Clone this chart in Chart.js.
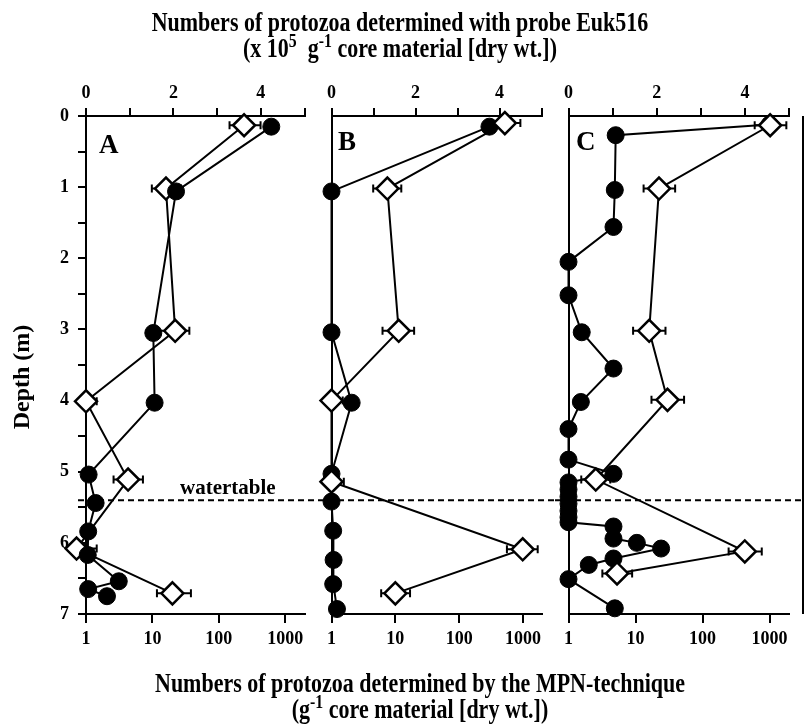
<!DOCTYPE html>
<html>
<head>
<meta charset="utf-8">
<script src="https://cdn.jsdelivr.net/npm/chart.js@4.4.0/dist/chart.umd.min.js"></script>
<style>
  body { margin: 0; background: #fff; }
  #fig { position: relative; width: 806px; height: 725px; color: #000;
         font-family: "Liberation Serif", "Times New Roman", serif; font-weight: bold; }
  canvas { position: absolute; top: 0; }
  .txt { position: absolute; white-space: nowrap; }
  .ttl { width: 806px; text-align: center; font-size: 22px; line-height: 22px;
         transform: scaleY(1.2); transform-origin: 50% 0; }
  sup { font-size: 0.72em; line-height: 0; vertical-align: 0.55em; }
  .lett { font-size: 27px; line-height: 27px; }
</style>
</head>
<body>
<div id="fig">
  <canvas id="panelA" width="318" height="725" style="left:0px"></canvas>
  <canvas id="panelB" width="237" height="725" style="left:318px"></canvas>
  <canvas id="panelC" width="251" height="725" style="left:555px"></canvas>

  <div class="txt ttl" style="top:9px; left:-3px">Numbers of protozoa determined with probe Euk516<br>(x 10<sup>5</sup>&nbsp; g<sup>-1</sup> core material [dry wt.])</div>
  <div class="txt ttl" style="top:670px; left:17px">Numbers of protozoa determined by the MPN-technique<br>(g<sup>-1</sup> core material [dry wt.])</div>

  <div class="txt lett" style="left:99px; top:131px">A</div>
  <div class="txt lett" style="left:338px; top:128px">B</div>
  <div class="txt lett" style="left:576px; top:128px">C</div>
  <div class="txt" style="left:180px; top:477px; font-size:21px; line-height:21px">watertable</div>
</div>

<script>
// tick labels
const topTicks = [0, 2, 4];
const logTicks = [1, 10, 100, 1000];
const waterTable = 5.4;

// panel A - probe Euk516 (x10^5 per g) and MPN (per g) with depth (m)
const depthProbeA = [0.15, 1.06, 3.05, 4.03, 5.04, 5.44, 5.84, 6.17, 6.54, 6.65, 6.75];
const probeA      = [4.24, 2.06, 1.54, 1.57, 0.06, 0.22, 0.05, 0.04, 0.75, 0.05, 0.48];
const depthMpnA = [0.13, 1.02, 3.02, 4.01, 5.11, 6.08, 6.71];
const mpnA      = [240, 16, 22, 1.0, 4.3, 0.72, 20];
const mpnLoA    = [145, 9.8, 11.7, 1.0, 2.6, 0.6, 11.7];
const mpnHiA    = [425, 27, 36, 1.45, 7.2, 1.45, 38];

// panel B
const depthProbeB = [0.15, 1.06, 3.04, 4.03, 5.03, 5.42, 5.83, 6.24, 6.58, 6.93];
const probeB      = [3.76, 0, 0, 0.48, 0, 0, 0.04, 0.05, 0.04, 0.13];
const depthMpnB = [0.10, 1.02, 3.02, 4.0, 5.14, 6.09, 6.71];
const mpnB      = [520, 7.5, 11.3, 1.0, 1.0, 990, 10];
const mpnLoB    = [395, 4.5, 6.3, 1.0, 1.0, 560, 6];
const mpnHiB    = [910, 12.4, 19.7, 1.5, 1.56, 1700, 17];

// panel C
const depthProbeC = [0.12, 0.27, 1.04, 1.56, 2.05, 2.52, 3.04, 3.55, 4.02, 4.40, 4.83, 5.03,
                     5.15, 5.25, 5.35, 5.45, 5.55, 5.64, 5.71, 5.77, 5.94, 6.00, 6.08, 6.22, 6.31, 6.51, 6.92];
const probeC      = [4.56, 1.07, 1.05, 1.02, 0, 0, 0.30, 1.02, 0.28, 0, 0, 1.02,
                     0, 0, 0, 0, 0, 0, 0, 1.02, 1.02, 1.55, 2.10, 1.02, 0.46, 0, 1.05];
const depthMpnC = [0.13, 1.02, 3.02, 3.99, 5.11, 6.12, 6.43];
const mpnC      = [1020, 22.4, 16, 30, 2.55, 427, 5.3];
const mpnLoC    = [600, 13.2, 9.2, 17.3, 1.55, 245, 3.2];
const mpnHiC    = [1780, 39, 28, 53, 4.2, 765, 8.9];

const FONT = 'Liberation Serif';

function toPoints(xs, ys) {
  return xs.map((x, i) => ({ x: x, y: ys[i] }));
}

// error bars, watertable line and right frame line
const extras = {
  id: 'extras',
  beforeDatasetsDraw(chart, args, opts) {
    const ctx = chart.ctx;
    const area = chart.chartArea;
    ctx.save();
    ctx.strokeStyle = '#000';

    // watertable
    const wy = chart.scales.y.getPixelForValue(waterTable);
    ctx.lineWidth = 2;
    ctx.setLineDash([6, 4]);
    ctx.beginPath();
    ctx.moveTo(opts.lineFrom, wy);
    ctx.lineTo(opts.lineTo, wy);
    ctx.stroke();
    ctx.setLineDash([]);

    // right frame
    if (opts.frame) {
      ctx.beginPath();
      ctx.moveTo(area.right + 14, area.top);
      ctx.lineTo(area.right + 14, area.bottom);
      ctx.stroke();
    }

    // error bars
    chart.data.datasets.forEach(ds => {
      if (!ds.errLo) return;
      const xs = chart.scales[ds.xAxisID];
      const ys = chart.scales[ds.yAxisID];
      ds.data.forEach((p, i) => {
        const yy = ys.getPixelForValue(p.y);
        const x1 = xs.getPixelForValue(ds.errLo[i]);
        const x2 = xs.getPixelForValue(ds.errHi[i]);
        ctx.beginPath();
        ctx.moveTo(x1, yy);
        ctx.lineTo(x2, yy);
        if (ds.errLo[i] < p.x) { ctx.moveTo(x1, yy - 4); ctx.lineTo(x1, yy + 4); }
        if (ds.errHi[i] > p.x) { ctx.moveTo(x2, yy - 4); ctx.lineTo(x2, yy + 4); }
        ctx.stroke();
      });
    });
    ctx.restore();
  }
};

function makePanel(id, p) {
  const tickFont = { family: FONT, weight: 'bold', size: 18 };
  const yAxis = {
    type: 'linear', reverse: true, min: 0, max: 7,
    afterFit: s => { s.width = p.yWidth; },
    border: { display: true, color: '#000', width: 2 },
    grid: { display: p.labels, drawOnChartArea: false, color: '#000', lineWidth: 2, tickLength: 8 },
    ticks: {
      display: p.labels, stepSize: 0.5, padding: 9, color: '#000', font: tickFont,
      callback: v => Number.isInteger(v) ? v : ''
    },
    title: {
      display: p.labels, text: 'Depth (m)    ', color: '#000',
      font: { family: FONT, weight: 'bold', size: 24 }, padding: { top: 8, bottom: 0 }
    }
  };

  return new Chart(document.getElementById(id), {
    type: 'scatter',
    data: {
      datasets: [
        {
          label: 'Euk516',
          data: toPoints(p.probe, p.depthProbe),
          xAxisID: 'xTop', yAxisID: 'y',
          showLine: true, borderColor: '#000', borderWidth: 2,
          pointStyle: 'circle', pointRadius: 8.5, pointBackgroundColor: '#000',
          pointBorderColor: '#000', pointBorderWidth: 1,
          order: p.circlesOnTop ? 0 : 1, clip: false
        },
        {
          label: 'MPN',
          data: toPoints(p.mpn, p.depthMpn),
          errLo: p.lo, errHi: p.hi,
          xAxisID: 'xLog', yAxisID: 'y',
          showLine: true, borderColor: '#000', borderWidth: 2,
          pointStyle: 'rectRot', pointRadius: 11, pointBackgroundColor: '#fff',
          pointBorderColor: '#000', pointBorderWidth: 2.5,
          order: p.circlesOnTop ? 1 : 0, clip: false
        }
      ]
    },
    options: {
      responsive: false,
      animation: false,
      layout: { padding: { left: 0, right: p.padRight, top: 0, bottom: 0 } },
      plugins: {
        legend: { display: false },
        tooltip: { enabled: false },
        extras: { lineFrom: p.lineFrom, lineTo: p.lineTo, frame: p.frame }
      },
      scales: {
        xTop: {
          type: 'linear', position: 'top', min: 0, max: 5,
          afterFit: s => { s.height = 116; },
          border: { display: true, color: '#000', width: 2 },
          grid: { drawOnChartArea: false, color: '#000', lineWidth: 2, tickLength: 8 },
          ticks: {
            stepSize: 1, padding: 4, color: '#000', font: tickFont, maxRotation: 0,
            callback: v => topTicks.includes(v) ? v : ''
          }
        },
        xLog: {
          type: 'logarithmic', position: 'bottom', min: 1, max: 1950,
          afterFit: s => { s.height = 111; },
          afterBuildTicks: s => { s.ticks = logTicks.map(v => ({ value: v })); },
          border: { display: true, color: '#000', width: 2 },
          grid: { drawOnChartArea: false, color: '#000', lineWidth: 2, tickLength: 9 },
          ticks: {
            padding: 6, color: '#000', font: tickFont, maxRotation: 0, autoSkip: false,
            callback: v => logTicks.includes(v) ? String(v) : ''
          }
        },
        y: yAxis
      }
    },
    plugins: [extras]
  });
}

makePanel('panelA', {
  probe: probeA, depthProbe: depthProbeA, mpn: mpnA, depthMpn: depthMpnA, lo: mpnLoA, hi: mpnHiA,
  labels: true, yWidth: 86, padRight: 6, lineFrom: 78, lineTo: 318, frame: false, circlesOnTop: true
});
makePanel('panelB', {
  probe: probeB, depthProbe: depthProbeB, mpn: mpnB, depthMpn: depthMpnB, lo: mpnLoB, hi: mpnHiB,
  labels: false, yWidth: 7, padRight: 4, lineFrom: 0, lineTo: 237, frame: false, circlesOnTop: false
});
makePanel('panelC', {
  probe: probeC, depthProbe: depthProbeC, mpn: mpnC, depthMpn: depthMpnC, lo: mpnLoC, hi: mpnHiC,
  labels: false, yWidth: 7, padRight: 17, lineFrom: 0, lineTo: 248, frame: true, circlesOnTop: false
});
</script>
</body>
</html>
